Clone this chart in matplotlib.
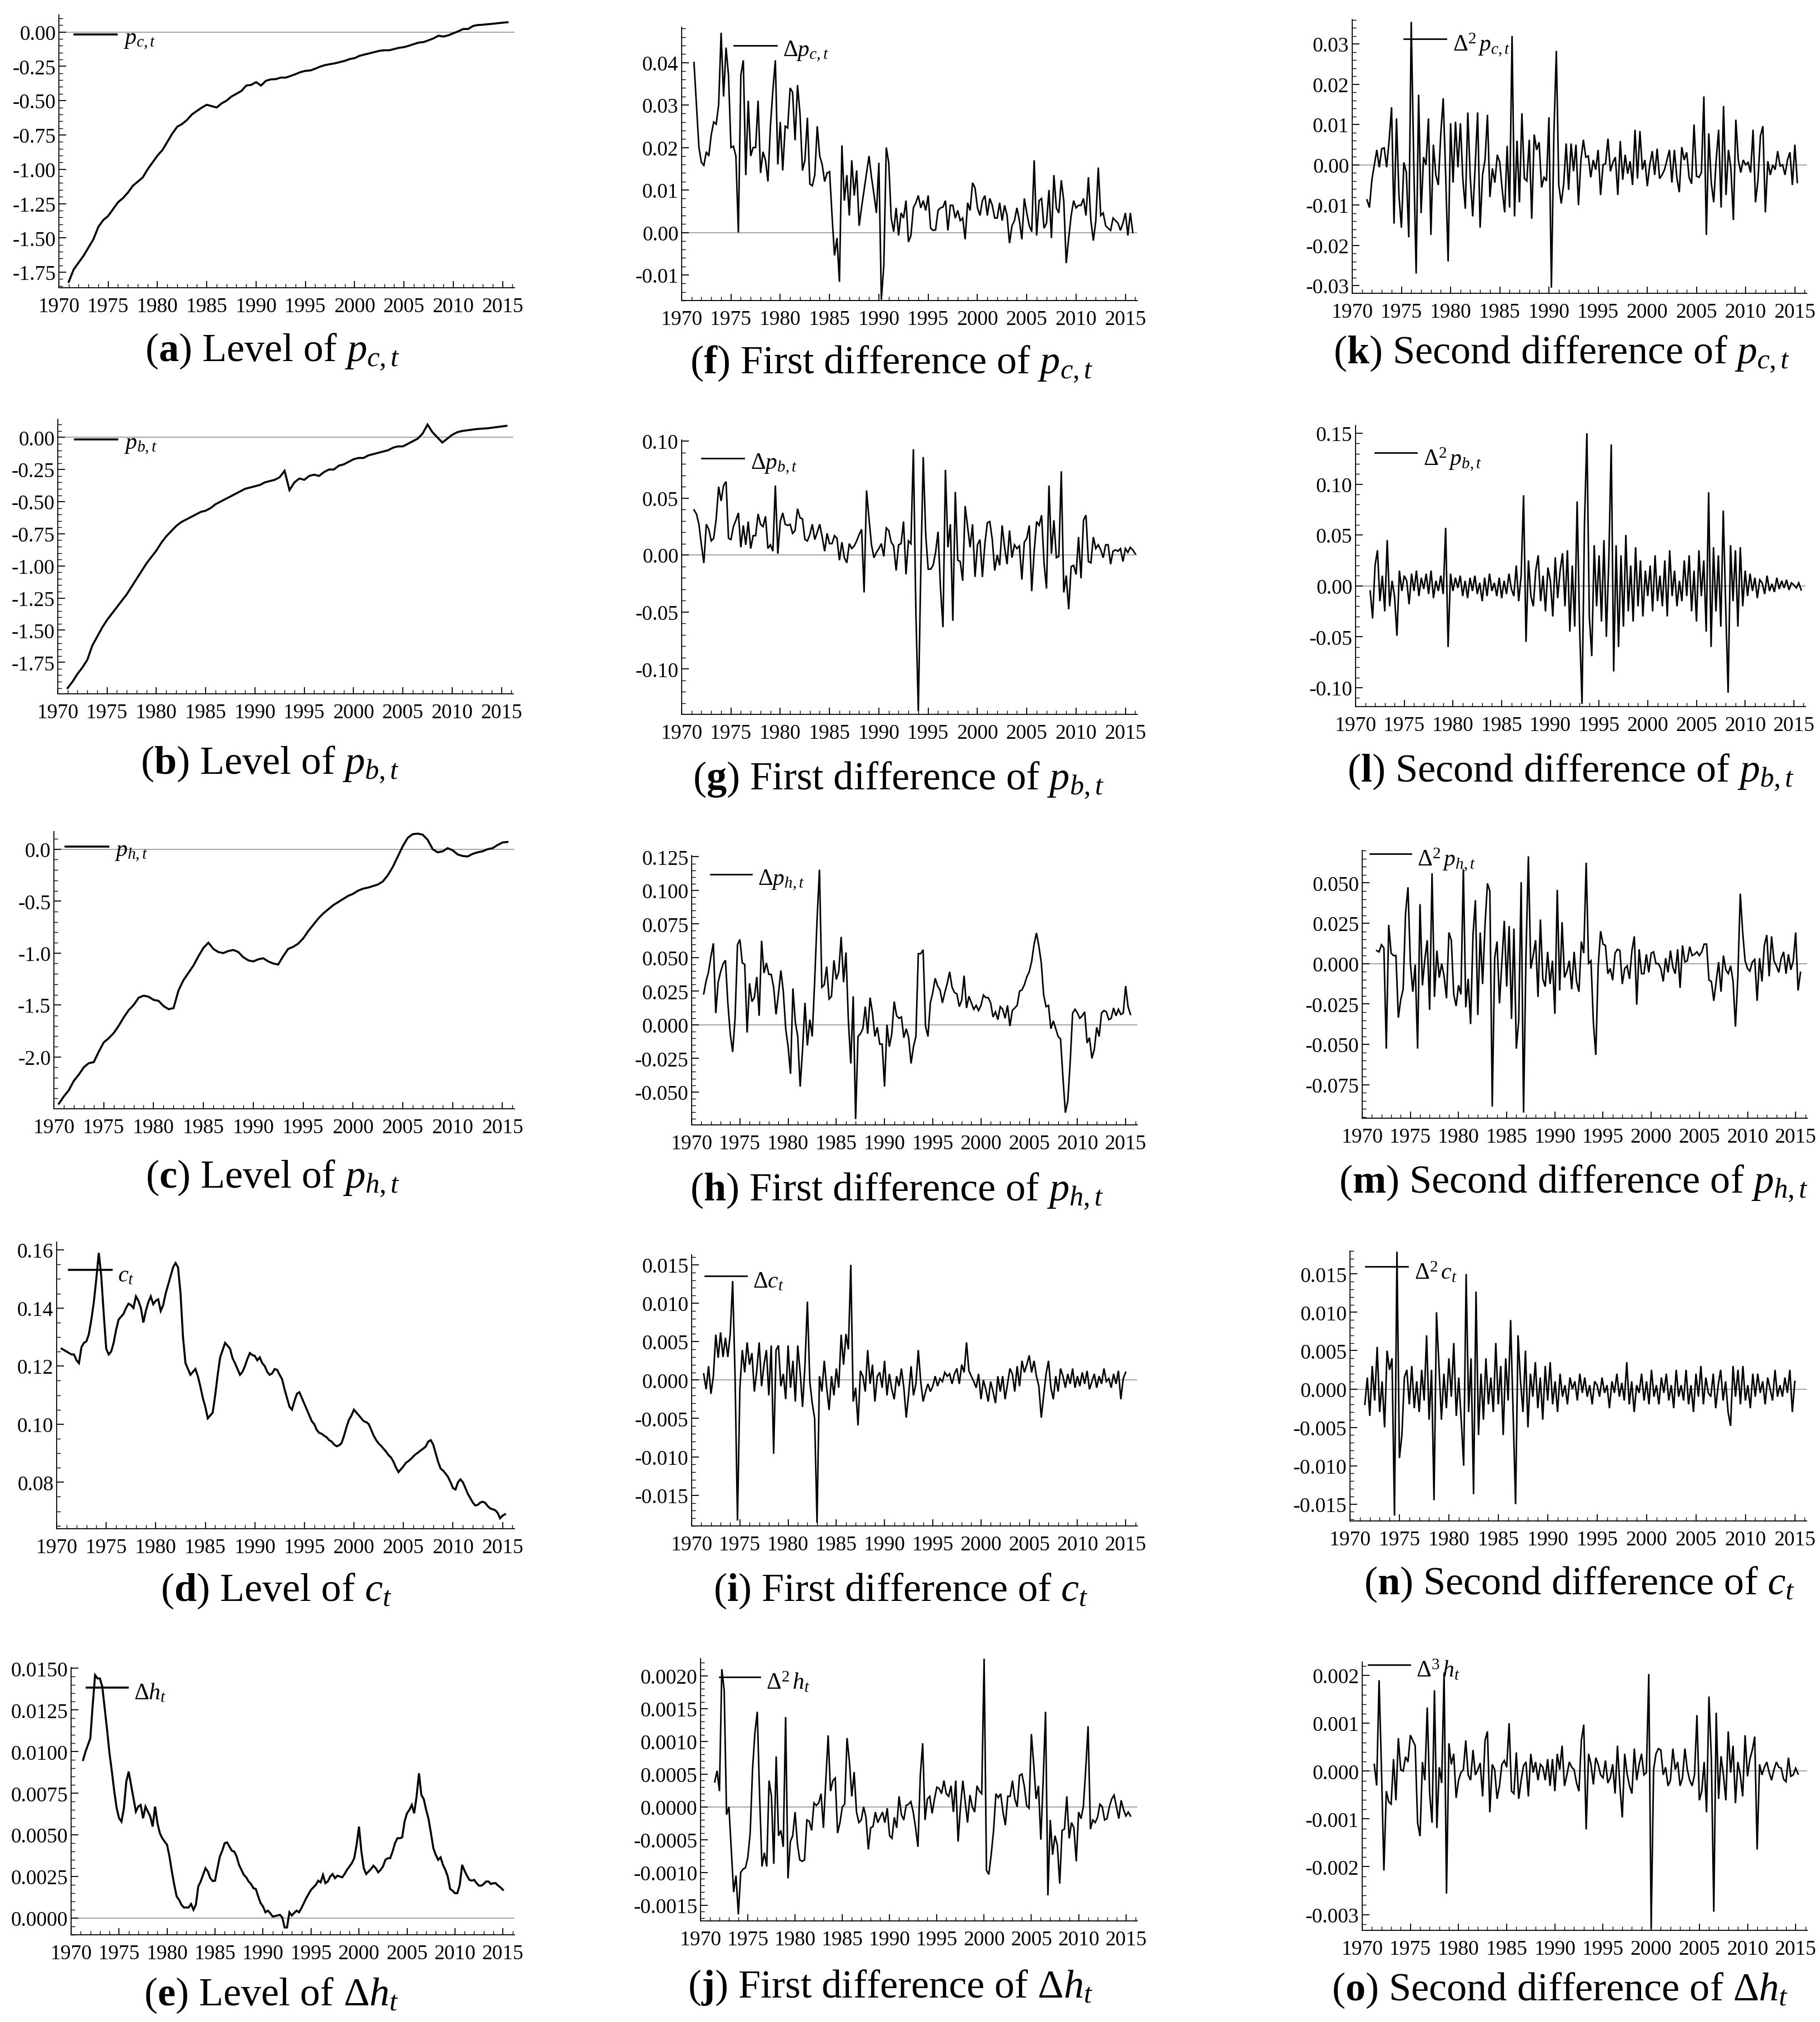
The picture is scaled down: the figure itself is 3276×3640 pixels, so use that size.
import numpy as np
import matplotlib.pyplot as plt
from matplotlib.ticker import MultipleLocator, AutoMinorLocator, FuncFormatter

plt.rcParams['font.family'] = 'Liberation Serif'
plt.rcParams['mathtext.fontset'] = 'custom'
plt.rcParams['mathtext.rm'] = 'Liberation Serif'
plt.rcParams['mathtext.it'] = 'Liberation Serif:italic'
plt.rcParams['mathtext.bf'] = 'Liberation Serif:bold'

# ---------------- data ----------------
# levels, semi-annual from 1971.0
pc_level = [-1.82, -1.73, -1.68, -1.63, -1.57, -1.51, -1.42, -1.37, -1.34, -1.29,
            -1.24, -1.21, -1.17, -1.12, -1.09, -1.06, -1.00, -0.95, -0.90, -0.86,
            -0.80, -0.74, -0.69, -0.67, -0.64, -0.60, -0.575, -0.55, -0.53, -0.54,
            -0.55, -0.52, -0.50, -0.47, -0.45, -0.43, -0.39, -0.385, -0.365, -0.39,
            -0.355, -0.345, -0.343, -0.332, -0.332, -0.32, -0.307, -0.292, -0.283, -0.28,
            -0.267, -0.252, -0.241, -0.234, -0.228, -0.219, -0.21, -0.197, -0.19, -0.173,
            -0.164, -0.155, -0.146, -0.137, -0.133, -0.133, -0.124, -0.115, -0.11, -0.10,
            -0.088, -0.077, -0.073, -0.06, -0.046, -0.027, -0.033, -0.024, -0.009, 0.005,
            0.022, 0.022, 0.044, 0.051, 0.053, 0.057, 0.06, 0.064, 0.068, 0.071]
pb_level = [-1.95, -1.90, -1.84, -1.79, -1.73, -1.62, -1.55, -1.48, -1.42, -1.37,
            -1.32, -1.27, -1.22, -1.16, -1.10, -1.04, -0.98, -0.93, -0.88, -0.82,
            -0.77, -0.73, -0.69, -0.66, -0.64, -0.62, -0.60, -0.58, -0.57, -0.55,
            -0.52, -0.50, -0.48, -0.46, -0.44, -0.42, -0.40, -0.39, -0.38, -0.37,
            -0.35, -0.34, -0.33, -0.31, -0.26, -0.41, -0.35, -0.32, -0.33, -0.30,
            -0.29, -0.30, -0.27, -0.25, -0.25, -0.22, -0.21, -0.19, -0.17, -0.16,
            -0.16, -0.14, -0.13, -0.12, -0.11, -0.10, -0.08, -0.07, -0.07, -0.05,
            -0.03, -0.01, 0.03, 0.10, 0.04, 0.00, -0.04, -0.01, 0.02, 0.04,
            0.05, 0.055, 0.06, 0.065, 0.068, 0.07, 0.075, 0.08, 0.085, 0.09]
# semi-annual from 1970.5
ph_level = [-2.45, -2.38, -2.32, -2.23, -2.17, -2.10, -2.06, -2.05, -1.95, -1.86,
            -1.82, -1.77, -1.70, -1.62, -1.55, -1.50, -1.43, -1.41, -1.42, -1.45,
            -1.46, -1.51, -1.54, -1.53, -1.36, -1.26, -1.19, -1.12, -1.03, -0.95,
            -0.90, -0.96, -0.99, -1.00, -0.98, -0.97, -0.99, -1.04, -1.07, -1.08,
            -1.06, -1.05, -1.08, -1.10, -1.11, -1.03, -0.96, -0.94, -0.91, -0.86,
            -0.79, -0.73, -0.67, -0.62, -0.58, -0.54, -0.51, -0.48, -0.45, -0.43,
            -0.40, -0.38, -0.37, -0.355, -0.34, -0.31, -0.25, -0.17, -0.07, 0.03,
            0.11, 0.145, 0.15, 0.14, 0.09, 0.00, -0.03, -0.02, 0.01, -0.01,
            -0.05, -0.065, -0.07, -0.045, -0.03, -0.02, 0.00, 0.01, 0.04, 0.065, 0.07]
# quarterly from 1970.5
c_level = [0.126, 0.1255, 0.125, 0.1245, 0.124, 0.124, 0.122, 0.121, 0.1265, 0.128,
           0.1285, 0.131, 0.136, 0.142, 0.150, 0.159, 0.151, 0.138, 0.126, 0.124,
           0.125, 0.128, 0.1325, 0.136, 0.137, 0.138, 0.140, 0.1415, 0.141, 0.140,
           0.144, 0.1425, 0.140, 0.135, 0.139, 0.142, 0.144, 0.1413, 0.1425, 0.143,
           0.139, 0.141, 0.145, 0.148, 0.151, 0.154, 0.1555, 0.154, 0.145, 0.130,
           0.121, 0.119, 0.117, 0.118, 0.119, 0.1165, 0.113, 0.109, 0.106, 0.102,
           0.103, 0.104, 0.110, 0.117, 0.123, 0.1255, 0.128, 0.127, 0.126, 0.1227,
           0.121, 0.119, 0.117, 0.118, 0.120, 0.1225, 0.1245, 0.1238, 0.1235, 0.122,
           0.123, 0.121, 0.120, 0.118, 0.117, 0.1175, 0.119, 0.1187, 0.117, 0.1155,
           0.112, 0.109, 0.106, 0.105, 0.108, 0.1105, 0.111, 0.109, 0.107, 0.105,
           0.103, 0.101, 0.100, 0.098, 0.097, 0.0967, 0.096, 0.0955, 0.0945, 0.094,
           0.093, 0.0924, 0.0927, 0.0935, 0.096, 0.099, 0.1015, 0.103, 0.105, 0.104,
           0.103, 0.102, 0.101, 0.1007, 0.100, 0.098, 0.096, 0.0945, 0.0933, 0.0925,
           0.0915, 0.0905, 0.0893, 0.0885, 0.087, 0.085, 0.0835, 0.0845, 0.0855, 0.0867,
           0.0873, 0.088, 0.0889, 0.0897, 0.0903, 0.091, 0.0916, 0.0923, 0.094, 0.0945,
           0.093, 0.090, 0.087, 0.0847, 0.084, 0.083, 0.0818, 0.080, 0.078, 0.0775,
           0.080, 0.081, 0.080, 0.078, 0.076, 0.0745, 0.073, 0.072, 0.0722, 0.073,
           0.0733, 0.0729, 0.0718, 0.071, 0.0707, 0.0704, 0.0695, 0.0676, 0.0685, 0.069]
# quarterly from 1971.25, units 1e-4
dh_level = [95, 100, 104, 108, 128, 146, 144, 144, 139, 126, 113, 99, 88, 76, 66, 60,
            58, 66, 82, 88, 80, 72, 64, 67, 68, 60, 67, 64, 61, 55, 67, 57,
            51, 48, 46, 44, 37, 28, 20, 13, 11, 8, 6.4, 6.4, 6.4, 8.5, 5, 8,
            19, 22, 26, 30, 28, 24, 22.3, 22.5, 30, 37, 40.5, 45, 45.5, 43, 40.5, 40,
            37, 32, 29, 26, 24.5, 22, 20.5, 18, 17.5, 13, 9, 7, 3.5, 4.5, 3, 1,
            1.2, 1.6, 2, 0.5, -5.6, -5.6, 3.5, 1.6, 3.2, 4.5, 3.5, 6, 9, 12, 14.5, 17,
            18.5, 20, 22.5, 21.5, 26, 21, 22, 25, 26.5, 24, 25.5, 25, 24.5, 26.5, 29, 31,
            33, 36, 44, 55, 40, 30, 26.5, 28, 29.5, 31.5, 30, 27.5, 29, 31, 35, 36,
            36, 40, 45, 48, 48, 48.5, 58, 63, 65, 68, 63, 73, 87, 74, 71.5, 65,
            59.5, 51, 42, 38, 35, 36.5, 32, 29, 25, 17.5, 16.5, 15, 15, 20, 32, 28.5,
            25.5, 23, 22.5, 23, 21, 19.5, 19.5, 20.5, 22, 22, 20.5, 21, 21, 19.5, 18.5, 17]

# first differences, quarterly from 1971.25, units 1e-3
dpc = [40, 30, 20, 16.5, 15.8, 19, 18, 23, 26, 25.5, 30, 47, 32, 43.5, 37, 20,
       20.3, 18, 0, 37, 40.5, 13.5, 31, 18, 20, 20, 31, 14, 19, 17, 12, 25,
       33.5, 40.5, 16, 26, 14.6, 25, 24.6, 34, 33, 21.7, 34.7, 28, 14.6, 17, 27, 11.4,
       11, 13.5, 25, 18, 16, 12, 14, 14.3, 4, -5.4, -1.3, -11.6, 20.5, 7.5, 13.5, 4,
       17, 8.7, 14.6, 1.6, 6, 10, 14, 18, 13, 9, 4.6, 16.4, -15.8, -7.8, 20, 16.4,
       3.4, 0.2, 5.8, -0.7, 4.6, 3.4, 7.5, -2.2, -0.7, 5.8, 7, 8.7, 5.8, 7.5, 5.2, 8.7,
       1, 0.5, 0.6, 5.2, 5.8, 6, 7.5, 0.5, 6.4, 6.4, 3.4, 5.2, 2.8, 3.4, -1.6, 7,
       5.2, 11.7, 10.5, 5.8, 4, 7.5, 8.7, 4, 8, 6.4, 3.4, 3.4, 7, 2.8, 6.4, 4,
       -2.5, 1.6, 2.8, 5.8, 2.8, -1.6, 8, 4.6, 1.6, 0.2, 17, -0.7, 7.5, 8, 1, 2.2,
       10, -1.3, 13.5, 5.8, 4.6, 12.3, 7.5, -7.2, -1.3, 4, 7.5, 5.8, 6.4, 6.4, 8, 4,
       13, 2.8, -1.9, 2.8, 15.3, 4, 4.6, 1.6, 1, 0.5, 3.4, 2.8, 2.2, 0.5, 2.2, 4.6,
       -0.7, 4.6, 0]
dpb = [39.6, 36, 27, 9, -7, 27, 22.6, 12.4, 14.7, 31.7, 60, 47.5, 61, 64.5, 14.7, 13.6,
       25, 30.5, 37, 6.8, 26, 9, 29.4, 5.7, 17, 17, 36, 27, 25, 34, 5.7, 9,
       3.4, 61, 1.1, 29.4, 37, 27, 26, 27, 19, 21.5, 40.7, 32.8, 31.7, 13.6, 12.4, 18,
       27, 13.6, 20, 27, 15.8, 3.4, 19, 10, 10, 17, 14.7, -4.5, 11.3, -2.3, -6.8, 10,
       5.7, 8, 12.4, 18, 22.6, -32.8, 56.6, 31.7, 9, -2.3, 2.3, 5.7, 10, -1.1, 23.8, 21.5,
       11.3, 8, -13.6, 9, 10, 29.4, -17, 12.4, 10, 92.8, -49.8, -136.9, -13.6, 86, 18, -12.4,
       -12.4, -9, 2.3, 20.4, -29.4, -63.3, 74.7, 6.8, 27, -57.7, 55.4, -4.5, -5.7, -22.6, 43, 25,
       6.8, 27, -19.2, 9, 13.6, -19.2, 10, 28.3, 29.4, 13.6, -13.6, 0, -9, 26, 6.8, -8,
       21.5, -2.3, 9, 5.7, 8, -21.5, 11.3, 14.7, 26, -31.7, 3.4, 29.4, 26, 35, -6.8, -29.4,
       61, 1.1, 30.5, -2.3, -1.1, 73.5, -32.8, -18, -47.5, -10.2, -9, -17, 15.8, -20.4, 30.5, 35,
       -5.7, -6.8, 15.8, 5.7, 9, 4.5, -2.3, 9, 9, -8, 3.4, 4.5, 3.4, 5.7, -5.7, 5.7,
       2.3, 6.8, 4.5, 1.1]
dph = [23, 32.7, 39.4, 51, 60.6, 8.7, 31.7, 39.4, 45.2, 48, 16.3, -6.7, -20.2, 4.8, 59.6, 63.5,
       46, 45, -5.8, 30.8, 17.3, 20.2, 35.6, 6.7, 62.5, 38.5, 46, 37.5, 37.5, 27.9, 7.7, 23,
       40.4, 25, -2.9, -16.3, -36.5, 27, 1.9, -8.7, -46, -18.3, 16.3, -15.4, 3.8, -8.7, 31.7, 78,
       115.4, 27.9, 29.8, 43.3, 19.2, 21.2, 48, 33.7, 39.4, 65.4, 31.7, 53.8, 2.9, -28.8, 21.2, -70.2,
       -8.7, -6.7, -2.9, 13.5, -6.7, 20.2, 8.7, -8.7, -1.9, -14.4, -14.4, -46, 0, -16.3, -6.7, 17.3,
       6.7, 4.8, 5.8, -9.6, -2.9, -9.6, -28.8, -16.3, -8.7, 52.9, 52.9, 55.8, -1, -8.7, 16.3, 24,
       34.6, 28.8, 26, 16.3, 24, 30.8, 39.4, 27.9, 24, 23, 13.5, 18.3, 36.5, 12.5, 21.2, 16.3,
       11.5, 14.4, 10.6, 14.4, 22.1, 20.2, 20.2, 16.3, 5.8, 9.6, 3.8, 13.5, 11.5, 4.8, 14.4, -1,
       10.6, 12.5, 14.4, 25, 26, 29.8, 35.6, 39.4, 47, 59.6, 68.3, 58.7, 46, 22.1, 13.5, 14.4,
       -2.9, 2.9, -2.9, -8.7, -10.6, -39.4, -65.4, -56.7, -27.9, 8.7, 11.5, 8.7, 4.8, 6.7, 9.6, -13.5,
       -9.6, -25, -18.3, -1.9, -8.7, 8.7, 10.6, 9.6, 3.8, 4.8, 12.5, 6.7, 11.5, 7.7, 8.7, 28.8,
       13.5, 7.7]
dc = [0.8, -1.2, 1.8, -1.8, 0.5, 5.9, 2.9, 6.2, 3.0, 5.5, 3.0, 6.0, 12.9, 0.5, -18.3, -1.0,
      3.9, 1.0, 4.9, 2.0, 3.5, -1.5, 1.2, 4.9, -0.8, 2.0, 3.9, -2.0, 4.5, -9.6, 3.9, 4.5,
      -0.8, 0.8, -2.5, 4.5, -1.0, 2.5, -2.8, 4.5, 1.0, -3.5, 2.0, 10.2, -0.2, -3.0, -5.0, -18.6,
      0.5, -1.5, 2.5, -1.0, -3.9, 0.5, -2.0, 1.5, -1.0, 5.9, 2.0, 6.0, 4.0, 15.0, -2.8, -1.0,
      -5.9, 1.2, 0.5, -1.5, 3.9, -0.5, 2.0, -2.8, 0.5, 1.0, -1.0, 2.5, -2.0, 0.8, -1.2, -2.5,
      0.5, -0.8, 1.5, -1.0, -4.9, -1.8, 1.8, -2.0, -0.5, 3.9, -0.2, -2.8, -1.5, -0.5, -1.5, -0.8,
      0.5, -0.8, 0.2, -0.2, 1.0, 0.5, 0.8, -0.5, 0.8, 1.5, -0.5, 2.0, 1.0, 4.9, 1.2, 0.5,
      -0.2, -1.0, 0.8, -2.5, 0.0, -1.2, -2.8, -0.2, -1.5, -3.0, 0.5, -1.5, 0.5, -2.5, -0.5, 1.5,
      0.8, -1.5, 1.8, -0.8, 2.5, 1.0, 2.0, 3.2, 1.0, 2.5, 0.5, -0.8, -4.9, -2.0, 0.8, 2.5,
      -1.0, -2.5, 0.5, -1.5, 1.5, 0.5, -1.0, 0.8, -0.5, 1.5, -1.0, 0.5, -0.8, 1.0, -0.5, 1.2,
      -1.2, -0.2, 0.8, -1.0, 0.5, -0.5, 1.5, -0.2, 0.2, -1.0, 0.8, -0.5, 1.2, -2.5, 0.2, 1.0]
# first difference of dh, quarterly from 1971.5, units 1e-4
d2h = [3.8, 5.5, 2.4, 21, 17.8, -1.2, 0, -6.5, -13, -10.5, -16.4, -10, -9.5, -9.3, -7.7, -4,
       5.7, 11.3, 14.5, 1.6, -9.1, -7, -9.1, 4, 1.6, -8.7, 7.7, -4.4, -3.6, -6.1, 13.7, -10.9,
       -5.3, -4.4, -0.8, -5.7, -8.1, -8.3, -8.1, -2, -2.2, -3.6, 0.6, 0.2, 0.6, 2, -3.2, 4,
       10.9, 2.4, 4, 4.4, -4, -2.4, 0, 0.4, 10.5, 6.9, 1.6, 5.3, -0.8, -2.4, -2, 0,
       -1.6, -6.5, -3.2, -3, -0.8, -2.4, -1.6, -0.8, -2.4, -0.2, -4.4, -4.8, -1.6, -3.2, 1.6, -1.2,
       -2, 0.2, 0.4, 0.8, -0.8, -3.2, -6.1, 4.8, 9.7, -2, 1.2, 1.6, -1, 1.2, 3, 2.8,
       2, 4, 2, 1.6, 3.2, -0.8, 4, -5.3, 0, 4, 0.8, -2.4, 1.8, 0, -0.8, 3.2,
       2.4, 2, 22.6, -9.7, -10.3, -7.3, -3.6, 2, 1.4, 2, -0.8, -2.8, 1.6, 1.6, 4, 1.2,
       0, 4.8, 5, 3.2, 0.2, -0.2, 11.1, 6.5, 1.2, 3.2, -5, 4, 14.5, -13.5, -2, -7.3,
       -4.4, -5.9, -11.7, -3.6, -3.4, 1.6, -4.8, -2.4, -3.2, -8.3, -0.8, -1.8, 0, 5.7, 12.3, -3.4,
       -2, -2.4, -1.6, 0.4, 0, -2, -1.8, 0, 1.2, 1.8, 0, -1.8, 1, -0.4, -1.4, -0.8, -1.4]

# second differences, quarterly from 1971.5, units 1e-3
d2pc = [-8.7, -10.6, -3.7, 0, 3.7, -0.6, 4, 4.2, -0.6, 6, 14.3, -14.6, 11.5, -7.5, -15.6, 0.6,
        -1.9, -18, 35.5, 1.2, -27, 17.4, -12, 1.9, 0, 11.5, -17.4, 5, -2.5, -5, 7.5, 16.5,
        -2.5, -24, 10.3, -4.4, 10.7, -0.6, 10.3, -3.7, -10.9, 13, -3.1, -12.8, -0.3, 13, -15.6, -2.5,
        1.2, 12.4, -8, -0.9, -4.4, 2.5, 0.6, -6.2, -11.8, 4.7, -10.6, 32, -12.8, 6, -9.3, 12.8,
        -3.4, -4, 6.2, -13.4, 7.5, 3.7, 5.6, -5.6, -3.1, -4, 11.8, -30.5, 7.5, 28.3, -5, -9.6,
        -4.7, 5.3, -6.2, 5.3, -1.6, 5, -10, 1.2, 6.2, 1.9, 2.2, -3.1, 1.2, -1.2, 3.7, -7.5,
        0, 0.3, 6.5, -1.6, 0.6, 1.9, -7.5, 5.9, -3.7, 2.5, -2.2, 0.9, -5, 8.7, -3.4, 8.4,
        -1.2, 1.2, -5.3, 0, 3.4, -2.5, 4, -3.4, -2.5, -1.2, 1.2, 3.7, -4.4, 3.7, -3.1, -6.8,
        4.4, 1.2, 3.1, -3.1, -4.7, 10, -2.8, -3.1, -1.9, 17, -17.4, 7.8, -4.4, -9.3, 1.2, 8.7,
        -10.6, 14.6, -7.5, 3.7, -0.9, -13.7, 11.2, 1.2, -1.9, 1.2, 0, 0.6, -1.9, 8.7, -9.3, -3.7,
        7.2, 9.6, -11.8, 0.9, -2.5, 0, -1.2, 3.4, -0.3, 0, -2.5, 1.2, 3.1, -5, 5, -4.4]
d2pb = [-5, -32, 20, 35, -15, 10, -25, 45, -20, 5, -10, -49, 15, -5, 10, 5,
        -18, 12, -5, 15, -10, 8, -3, 12, -8, 15, -12, 5, -5, 10, -8, 57,
        -60, 12, -5, 8, -2, 10, -10, 5, -12, 8, -5, 10, -8, 3, -15, 8,
        -10, 12, -5, 3, -10, 8, -12, 5, -8, 12, -3, -10, 20, -15, 10, 89,
        -55, 25, -10, -20, 15, 30, -15, 10, -25, 18, 5, -30, 28, -12, 15, 32,
        -20, 35, -45, 20, -40, 83, -40, -116, 60, 150, -30, -69, 40, -20, 30, -35,
        45, -50, 25, 139, -84, 40, -60, 30, -40, 50, -25, 20, -35, 38, -20, 25,
        -30, 15, -10, 20, -25, 30, -15, 10, -20, 25, -30, 35, -10, 15, -20, 5,
        -15, 25, -10, 30, -25, 15, -35, 35, -10, 25, -45, 92, -60, 38, -25, 30,
        -40, 74, -20, -105, 40, -15, 35, -40, 38, -20, 15, -10, 12, -5, 8, -12,
        6, 3, -8, 10, -5, 2, -6, 8, -3, 5, -2, 6, -4, 3, 1, -2, 3, -4]
d2ph = [8.1, 7.3, 11.7, 9.7, -52.6, 24, 6.5, 5, 5, -33.4, -22.2, -15.8, 31.3, 47.3, 0.2, -17.4,
        -0.6, -52.6, 36.9, -13.4, 2.6, 14.5, -28.6, 56, -20.6, 8.1, -8.6, 0, -7.8, -21.4, 19.3, 14.5,
        -19, -26.2, -13.4, -19, 58.5, -27, -9.4, -37.4, 17.7, 39.3, -31.8, 19.3, -12.6, 24.1, 49.7, 44.9,
        -88.5, 3.4, 13.7, -24.6, 1, 26.5, -14.2, 23.3, -34.2, 21.7, -52.6, -35, 50.5, -92.2, 5, 66.5,
        -3, 5, 14.5, -20.6, 27.3, -9.4, -14.2, 7.3, -12.6, 1.8, -31, 45.7, -16.6, 25.7, -8.6, -4.6,
        1.8, -15.8, 7.3, -11, -17.4, 13.7, 6.5, 62.5, 0.2, 1.8, -36.6, -56.5, -1.4, 20.1, 12.1, 11.3,
        -6.2, -3, -10.2, 6.5, 8.9, 8.1, -12.6, -3, -1.4, -9.4, 8.1, 16.9, -25.4, 8.9, -6.2, -6.2,
        5.8, -5.4, 6.5, 7.3, 0, 0, -3, -11, 3.4, -5.4, 8.1, -2.2, -6.2, 8.9, -15, 11.3,
        1, 1.8, 10.5, 5, 5.8, 7.3, 5, 7.3, 12.1, 12.1, -10.2, -11, -23, -11, 1, -17.4,
        5, -3.8, -6.2, -1.4, -11, -39, -7.8, 43.3, 19.3, 1.8, -3, -4.6, 1, 2.6, -23, 3.4,
        -11, 11.3, 17.7, -7.8, 16.9, 1.8, -1.4, -5.4, 3.4, 7.3, -6.2, 5.8, -3.8, 1.8, 19.3, -16.6,
        -5.4]
d2c = [-2.0, 1.5, -3.5, 3.0, -1.5, 5.5, -3.0, 1.0, -5.0, 5.0, 2.5, 4.0, -16.5, 17.9, -9.0, -6.0,
       1.5, 2.5, -2.0, 3.0, -2.5, 1.0, -3.0, 2.5, -1.5, 7.0, -4.0, 2.5, -14.5, 10.0, 3.0, -4.0,
       2.0, -2.5, 4.0, -1.0, 6.0, -3.5, 1.5, -4.0, -10.0, 15.0, -3.0, 4.0, -13.7, 12.7, -6.0, 2.0,
       -4.0, 4.0, -2.0, 1.5, -3.0, 6.0, -2.0, 3.0, -6.0, 4.0, -1.5, 9.0, -3.0, -15.0, 7.0, 1.0,
       -3.0, 5.0, -5.0, 2.0, -1.0, 3.5, -2.5, 1.5, -4.0, 3.0, -1.5, 3.5, -2.0, 1.0, -3.0, 2.0,
       -1.0, 0.5, -2.0, 1.5, 0.0, 1.0, -1.5, 2.0, -0.5, 1.5, -1.0, 0.5, -2.0, 1.0, 0.5, -1.0,
       1.5, -0.5, 0.5, -2.5, 1.0, -0.5, 2.0, -1.0, 0.8, -1.5, 3.5, -2.0, 1.0, -3.0, 0.5, -0.5,
       2.0, -1.5, 1.0, -2.0, 2.5, -1.0, 0.5, -2.0, 1.5, -0.5, 2.0, -1.5, 0.5, -2.5, 2.5, -1.0,
       0.5, -1.5, 2.5, -2.0, 0.5, -3.0, 2.0, -1.0, 3.0, -2.0, 1.5, -0.5, -1.0, 2.0, -2.5, 0.5,
       2.5, -1.5, 1.0, -3.0, -4.8, 3.0, -1.0, 2.5, -2.0, 3.0, -1.5, 0.5, -2.5, 2.0, -1.0, 2.0,
       -0.5, 1.0, -2.0, 1.5, 0.0, -1.5, 2.5, -1.0, 0.5, -1.0, 1.5, -0.5, 2.5, -3.0, 1.0]
# second difference of dh, quarterly from 1971.25, units 1e-4
d3h = [1.4, -3, 19, 0.3, -20.8, -4.2, -6.4, -6.9, 2.5, -6.1, 6.9, 0.3, 0, 3, 1.9, 7.5,
       6.4, 5.3, -10.8, -13.6, 1.9, -1.9, 13.3, -4.7, -10.8, 16.9, -11.9, 0.8, -2.5, 20.6, -25.6, 5.8,
       1.4, 3.6, -5.6, -1.9, -0.3, 0.3, 6.4, -0.8, -1.9, 4.4, -0.8, 0.3, 1.7, -5.3, 6.4, 8.3,
       -8.6, 1.4, 0.3, -5.8, -3.1, 1.4, 2.2, 0.8, 10, -4.2, -4.7, 3.9, -5.8, -1.9, 1.1, 1.9,
       -5.3, 3.6, -0.3, 1.9, -1.9, 1.4, 0.8, -1.9, 2.5, -3.1, 2.5, -4.2, 3.6, 0.3, 5.3, -3.1,
       -0.8, 1.9, 0.8, 0.3, -2.5, -4.2, 6.4, 9.7, -12.2, 3.6, 1.4, -2.8, 2.8, 1.4, -0.8, -1.4,
       2.2, -2.5, -1.4, 1.4, -4.7, 5.3, -3.1, -9.7, 3.6, -0.6, -3.1, -4.7, 4.7, -1.9, 1.4, 3.6,
       -0.8, -0.3, 20.3, -33, 0.3, 3.6, 4.7, 4.4, -0.8, 0.8, -3.1, -1.9, 4.7, 0.3, 1.9, -3.1,
       -1.4, 4.7, 0.3, -1.9, -3.1, -0.8, 11.7, -6.1, -4.2, 1.9, -8.6, 15.6, 2.5, -29.4, 12.2, -5.8,
       3.1, -0.8, -6.1, 8.3, -0.3, 5.3, -6.7, 1.9, -0.8, -5.3, 7.5, -1.1, 2.5, 4.4, 7.2, -16.4,
       1.4, -0.8, 0.8, 1.9, -0.3, -1.9, 0.3, 1.9, 0.8, 0.6, -1.7, -2.2, 2.8, -1.1, -0.8, 0.6, -0.6]


def series(start, step, vals, scale=1.0):
    v = np.array(vals, dtype=float) * scale
    return start + step * np.arange(len(v)), v


W, H = 3276, 3641
fig = plt.figure(figsize=(W / 100, H / 100), dpi=100)


def panel(rect, data, ylim, step, decimals, minor, lw, leg_xy, label, caption, cap_xy):
    L, T, R, B = rect
    ax = fig.add_axes([L / W, 1 - B / H, (R - L) / W, (B - T) / H])
    t, y = data
    if ylim[0] < 0 < ylim[1]:
        ax.axhline(0, color='#8c8c8c', lw=1.1, zorder=1)
    ax.plot(t, y, color='black', lw=lw, zorder=2, solid_joinstyle='miter')
    ax.set_xlim(1970, 2016.2)
    ax.set_ylim(*ylim)
    for s in ['top', 'right']:
        ax.spines[s].set_visible(False)
    for s in ['left', 'bottom']:
        ax.spines[s].set_linewidth(1.3)
    ax.xaxis.set_major_locator(MultipleLocator(5))
    ax.xaxis.set_minor_locator(MultipleLocator(1))
    ax.yaxis.set_major_locator(MultipleLocator(step))
    ax.yaxis.set_minor_locator(AutoMinorLocator(minor))
    ax.yaxis.set_major_formatter(FuncFormatter(
        lambda v, p: f"{0.0 if abs(v) < step / 1000 else v:.{decimals}f}"))
    ax.xaxis.set_major_formatter(FuncFormatter(lambda v, p: f"{int(round(v))}"))
    ax.tick_params(which='both', direction='in', labelsize=27)
    ax.tick_params(which='major', length=9, width=1.3)
    ax.tick_params(which='minor', length=5, width=1.0)
    ax.tick_params(axis='x', pad=12)
    ax.tick_params(axis='y', pad=4)
    x0, y0 = leg_xy
    ax.plot([x0, x0 + 0.093], [y0, y0], transform=ax.transAxes, color='black',
            lw=lw, clip_on=False, zorder=3)
    ax.text(x0 + 0.107, y0 - 0.02, label, transform=ax.transAxes, fontsize=30,
            va='center', ha='left')
    fig.text(cap_xy[0] / W, 1 - cap_xy[1] / H, caption, fontsize=52,
             ha='center', va='baseline')


LV, DF = 2.6, 2.0

# column 1: levels
panel((106, 28, 926, 519), series(1971.0, 0.5, pc_level), (-1.863, 0.124), 0.25, 2, 5, LV,
      (0.034, 0.929), r"$p_{c,t}$", r"($\mathbf{a}$) Level of $p_{c,t}$", (490, 650))
panel((104, 756, 924, 1250), series(1971.0, 0.5, pb_level), (-1.995, 0.14), 0.25, 2, 5, LV,
      (0.038, 0.927), r"$p_{b,t}$", r"($\mathbf{b}$) Level of $p_{b,t}$", (486, 1393))
panel((97, 1498, 926, 1997), series(1970.5, 0.5, ph_level), (-2.499, 0.17), 0.5, 1, 5, LV,
      (0.025, 0.946), r"$p_{h,t}$", r"($\mathbf{c}$) Level of $p_{h,t}$", (491, 2138))
panel((102, 2237, 926, 2753), series(1970.5, 0.25, c_level), (0.064, 0.1627), 0.02, 2, 4, LV,
      (0.027, 0.903), r"$c_{t}$", r"($\mathbf{d}$) Level of $c_{t}$", (497, 2882))
panel((128, 3003, 926, 3484), series(1971.25, 0.25, dh_level, 1e-4), (-0.001, 0.01505), 0.0025, 4, 5, LV,
      (0.035, 0.925), r"$\Delta h_{t}$", r"($\mathbf{e}$) Level of $\Delta h_{t}$", (488, 3610))

# column 2: first differences
panel((1227, 50, 2047, 542), series(1971.25, 0.25, dpc, 1e-3), (-0.016, 0.0483), 0.01, 2, 5, DF,
      (0.115, 0.933), r"$\Delta p_{c,t}$", r"($\mathbf{f}$) First difference of $p_{c,t}$", (1605, 672))
panel((1227, 793, 2047, 1287), series(1971.25, 0.25, dpb, 1e-3), (-0.1398, 0.101), 0.05, 2, 5, DF,
      (0.044, 0.933), r"$\Delta p_{b,t}$", r"($\mathbf{g}$) First difference of $p_{b,t}$", (1617, 1421))
panel((1245, 1541, 2047, 2026), series(1971.25, 0.25, dph, 1e-3), (-0.0745, 0.126), 0.025, 3, 5, DF,
      (0.042, 0.93), r"$\Delta p_{h,t}$", r"($\mathbf{h}$) First difference of $p_{h,t}$", (1614, 2161))
panel((1245, 2260, 2047, 2748), series(1971.25, 0.25, dc, 1e-3), (-0.019, 0.0163), 0.005, 3, 5, DF,
      (0.03, 0.922), r"$\Delta c_{t}$", r"($\mathbf{i}$) First difference of $c_{t}$", (1622, 2882))
panel((1261, 2987, 2047, 3459), series(1971.5, 0.25, d2h, 1e-4), (-0.00174, 0.00226), 0.0005, 4, 5, DF,
      (0.043, 0.931), r"$\Delta^{2}\,h_{t}$", r"($\mathbf{j}$) First difference of $\Delta h_{t}$", (1603, 3596))

# column 3: second differences
panel((2434, 36, 3252, 529), series(1971.5, 0.25, d2pc, 1e-3), (-0.0319, 0.0361), 0.01, 2, 5, DF,
      (0.114, 0.929), r"$\Delta^{2}\,p_{c,t}$", r"($\mathbf{k}$) Second difference of $p_{c,t}$", (2811, 654))
panel((2440, 767, 3250, 1273), series(1971.5, 0.25, d2pb, 1e-3), (-0.1186, 0.1576), 0.05, 2, 5, DF,
      (0.043, 0.903), r"$\Delta^{2}\,p_{b,t}$", r"($\mathbf{l}$) Second difference of $p_{b,t}$", (2827, 1407))
panel((2452, 1532, 3253, 2014), series(1971.5, 0.25, d2ph, 1e-3), (-0.0957, 0.0701), 0.025, 3, 5, DF,
      (0.017, 0.988), r"$\Delta^{2}\,p_{h,t}$", r"($\mathbf{m}$) Second difference of $p_{h,t}$", (2832, 2147))
panel((2430, 2253, 3252, 2739), series(1971.5, 0.25, d2c, 1e-3), (-0.0172, 0.018), 0.005, 3, 5, DF,
      (0.034, 0.942), r"$\Delta^{2}\,c_{t}$", r"($\mathbf{n}$) Second difference of $c_{t}$", (2843, 2870))
panel((2452, 2993, 3253, 3476), series(1971.25, 0.25, d3h, 1e-4), (-0.00333, 0.00228), 0.001, 3, 5, DF,
      (0.014, 0.99), r"$\Delta^{3}\,h_{t}$", r"($\mathbf{o}$) Second difference of $\Delta h_{t}$", (2808, 3601))

fig.savefig("out.png", dpi=100, facecolor='white')
